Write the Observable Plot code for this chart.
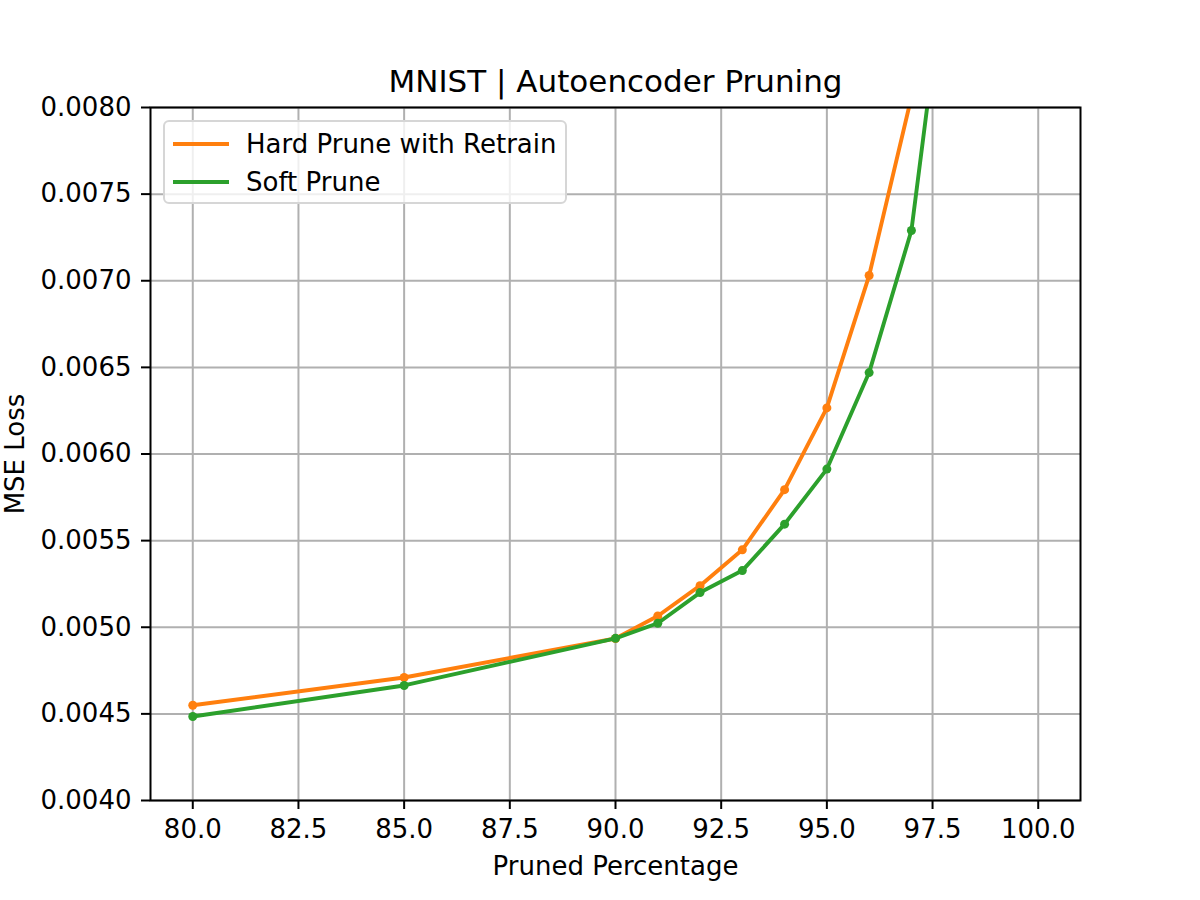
<!DOCTYPE html>
<html>
<head>
<meta charset="utf-8">
<script src="https://cdn.jsdelivr.net/npm/d3@7"></script>
<script src="https://cdn.jsdelivr.net/npm/@observablehq/plot@0.6"></script>
<style>
  html, body { margin: 0; padding: 0; background: #fff; }
  #wrap { position: relative; width: 1200px; height: 900px; font-family: "DejaVu Sans", sans-serif; }
  #legend { position: absolute; left: 163px; top: 120px; width: 400px; height: 80px;
    border: 2px solid #d6d6d6; border-radius: 6px; background: rgba(255,255,255,0.8); }
  .item { position: absolute; left: 0; height: 30px; display: flex; align-items: center; font-size: 26px; color: #000; }
  .swatch { display: inline-block; width: 56px; height: 4px; margin-left: 8px; margin-right: 17px; }
</style>
</head>
<body>
<div id="wrap"></div>
<script>
const title = "MNIST | Autoencoder Pruning";
const xLabel = "Pruned Percentage";
const yLabel = "MSE Loss";
const seriesNames = ["Hard Prune with Retrain", "Soft Prune"];
const seriesColors = ["#ff7f0e", "#2ca02c"];

const hardX = [80, 85, 90, 91, 92, 93, 94, 95, 96, 97];
const hardLoss = [0.00455, 0.00471, 0.004935, 0.005065, 0.00524, 0.005447, 0.005794, 0.006266, 0.00703, 0.00806];
const softX = [80, 85, 90, 91, 92, 93, 94, 95, 96, 97, 98];
const softLoss = [0.004485, 0.004664, 0.004936, 0.005023, 0.0052, 0.005327, 0.005595, 0.005913, 0.00647, 0.00729, 0.0092];

const xTicks = [80, 82.5, 85, 87.5, 90, 92.5, 95, 97.5, 100];
const yTicks = [0.004, 0.0045, 0.005, 0.0055, 0.006, 0.0065, 0.007, 0.0075, 0.008];

const hard = hardX.map((x, i) => ({x, y: hardLoss[i]}));
const soft = softX.map((x, i) => ({x, y: softLoss[i]}));

const font = "DejaVu Sans";
const chart = Plot.plot({
  width: 1200,
  height: 900,
  marginLeft: 150,
  marginRight: 120,
  marginTop: 107,
  marginBottom: 100,
  style: {fontFamily: font, background: "#fff", color: "#000"},
  x: {domain: [79, 101]},
  y: {domain: [0.004, 0.008]},
  marks: [
    Plot.gridX(xTicks, {stroke: "#b0b0b0", strokeOpacity: 1, strokeWidth: 2}),
    Plot.gridY(yTicks, {stroke: "#b0b0b0", strokeOpacity: 1, strokeWidth: 2}),
    Plot.line(hard, {x: "x", y: "y", stroke: seriesColors[0], strokeWidth: 3.9, clip: true}),
    Plot.dot(hard, {x: "x", y: "y", fill: seriesColors[0], r: 4.5, clip: true}),
    Plot.line(soft, {x: "x", y: "y", stroke: seriesColors[1], strokeWidth: 3.9, clip: true}),
    Plot.dot(soft, {x: "x", y: "y", fill: seriesColors[1], r: 4.5, clip: true}),
    Plot.frame({stroke: "#000", strokeWidth: 2}),
    Plot.axisX(xTicks, {tickSize: 9, tickPadding: 10, strokeWidth: 2, fontSize: 26, tickFormat: d => d.toFixed(1), label: null}),
    Plot.axisY(yTicks, {tickSize: 9, tickPadding: 10, strokeWidth: 2, fontSize: 26, tickFormat: d => d.toFixed(4), label: null}),
    Plot.text([title], {text: d => d, frameAnchor: "top", lineAnchor: "bottom", dy: -16, fontSize: 31}),
    Plot.text([xLabel], {text: d => d, frameAnchor: "bottom", lineAnchor: "top", dy: 56, fontSize: 26}),
    Plot.text([yLabel], {text: d => d, frameAnchor: "left", textAnchor: "middle", rotate: -90, dx: -135, fontSize: 26})
  ]
});
const wrap = document.getElementById("wrap");
wrap.appendChild(chart);

const legend = document.createElement("div");
legend.id = "legend";
seriesNames.forEach((name, i) => {
  const item = document.createElement("div");
  item.className = "item";
  item.style.top = (7 + i * 38) + "px";
  const sw = document.createElement("span");
  sw.className = "swatch";
  sw.style.background = seriesColors[i];
  item.appendChild(sw);
  item.appendChild(document.createTextNode(name));
  legend.appendChild(item);
});
wrap.appendChild(legend);
</script>
</body>
</html>
